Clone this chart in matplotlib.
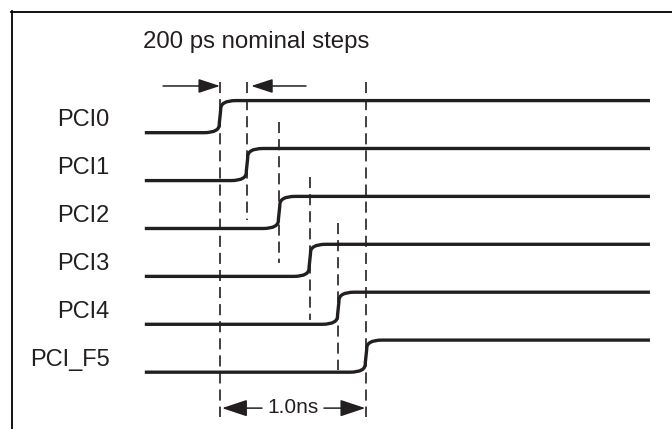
import matplotlib
matplotlib.use("Agg")
import matplotlib.pyplot as plt
from matplotlib.path import Path
from matplotlib.patches import PathPatch
from matplotlib.lines import Line2D

plt.rcParams["font.family"] = ["Liberation Sans", "DejaVu Sans"]
plt.rcParams["lines.scale_dashes"] = False

INK = "#231f20"

# signal names, edge times (ps) and row index (0 = top row)
names = ["PCI0", "PCI1", "PCI2", "PCI3", "PCI4", "PCI_F5"]
edge_ps = [0, 185, 405, 615, 810, 1000]
rows = [0, 1, 2, 3, 4, 5]

# vertical extent of the dashed reference line through each edge (row units)
dash_top = [-1.06, -1.06, -0.22, 0.92, 1.88, -1.06]
dash_bottom = [5.94, 1.82, 2.72, 3.91, 4.95, 5.94]

title = "200 ps nominal steps"
span_label = "1.0ns"

t_start, t_end = -515, 2945
swing = 0.67          # high level sits this many row units above low level
corner_t = 110        # horizontal size of the rounded corner (ps)
corner_y = 0.19       # vertical size of the rounded corner (rows)


def edge_path(t0, low):
    high = low - swing
    verts = [
        (t_start, low), (t0 - corner_t, low),
        (t0, low), (t0 - 5, low - corner_y),
        (t0 + 5, high + corner_y),
        (t0, high), (t0 + corner_t, high),
        (t_end, high),
    ]
    codes = [Path.MOVETO, Path.LINETO,
             Path.CURVE3, Path.CURVE3,
             Path.LINETO,
             Path.CURVE3, Path.CURVE3,
             Path.LINETO]
    return Path(verts, codes)


fig = plt.figure(figsize=(6.72, 4.29), dpi=100)
ax = fig.add_axes([0, 0, 1, 1])
ax.set_xlim(-1506.8, 3095.9)
ax.set_ylim(6.186, -2.770)
ax.axis("off")

for name, t0, r in zip(names, edge_ps, rows):
    ax.add_patch(PathPatch(edge_path(t0, r), fill=False, lw=2.4, edgecolor=INK,
                           capstyle="butt", joinstyle="round"))
    ax.text(-755, r - 0.13, name, ha="right", va="baseline", fontsize=17, color=INK)

for t0, y0, y1 in zip(edge_ps, dash_top, dash_bottom):
    ax.plot([t0, t0], [y0, y1], color=INK, lw=1.2, dashes=(8, 4.3))

ax.text(-527, -1.76, title, ha="left", va="baseline", fontsize=17.3, color=INK)

top_head = dict(arrowstyle="-|>,head_length=0.55,head_width=0.18", mutation_scale=24,
                color=INK, lw=1.1, shrinkA=0)
low_head = dict(arrowstyle="-|>,head_length=0.6,head_width=0.2", mutation_scale=26,
                color=INK, lw=1.1, shrinkA=0)
# step markers at the top
ax.annotate("", xy=(edge_ps[0], -0.975), xytext=(-390, -0.975),
            arrowprops=dict(top_head, shrinkB=0))
ax.annotate("", xy=(edge_ps[1], -0.975), xytext=(589, -0.975),
            arrowprops=dict(top_head, shrinkB=3))
# 1.0 ns span at the bottom
ax.annotate("", xy=(edge_ps[0], 5.75), xytext=(288, 5.75),
            arrowprops=dict(low_head, shrinkB=1.5))
ax.annotate("", xy=(edge_ps[-1], 5.75), xytext=(712, 5.75),
            arrowprops=dict(low_head, shrinkB=0.5))
ax.text(500, 5.85, span_label, ha="center", va="baseline", fontsize=15, color=INK)

# frame: left and top edges only
fig.add_artist(Line2D([11.5 / 672, 11.5 / 672], [0, 1 - 11 / 429], transform=fig.transFigure,
                      color="black", lw=1.3))
fig.add_artist(Line2D([11 / 672, 1], [1 - 11.5 / 429, 1 - 11.5 / 429], transform=fig.transFigure,
                      color="black", lw=1.3))

fig.savefig("out.png", dpi=100)
